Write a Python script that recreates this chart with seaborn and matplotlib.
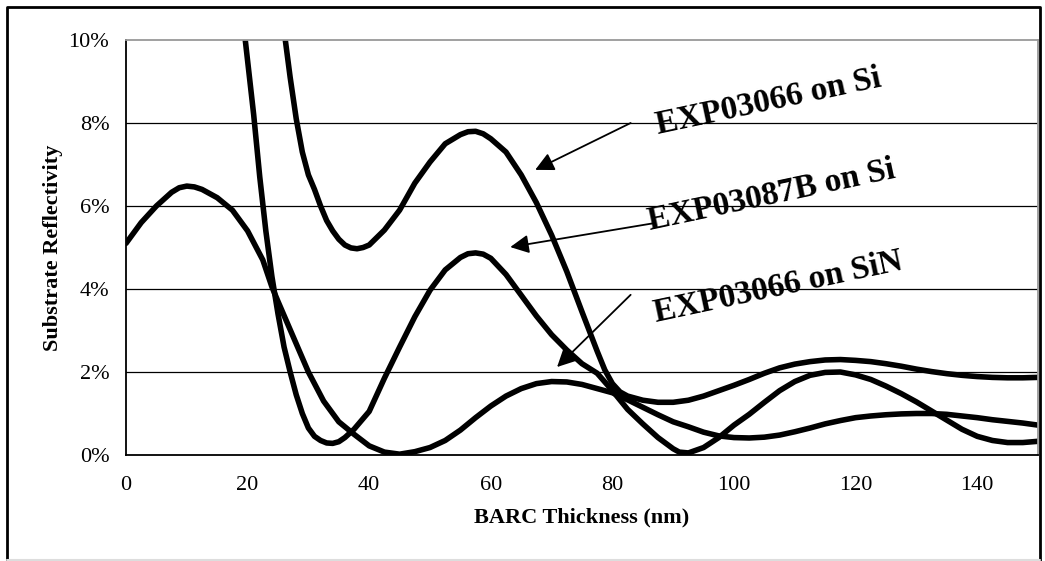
import pandas as pd
import matplotlib
matplotlib.use('Agg')
import matplotlib.pyplot as plt
import seaborn as sns
from matplotlib.ticker import PercentFormatter
from matplotlib.lines import Line2D

# reflectivity (%) vs BARC thickness (nm)
x_sin = [0, 2.5, 5, 7.5, 8.75, 10, 11.25, 12.5, 15, 17.5, 20, 22.5, 24, 25, 27.5, 30, 32.5, 35, 37.5,
         40, 42.5, 45, 47.5, 50, 52.5, 55, 57.5, 60, 62.5, 65, 67.5, 70, 72.5, 75, 77.5,
         80, 82.5, 85, 87.5, 90, 92.5, 95, 97.5, 100, 102.5, 105, 107.5, 110, 112.5, 115,
         117.5, 120, 122.5, 125, 127.5, 130, 132.5, 135, 137.5, 140, 142.5, 145, 147.5, 150]
y_sin = [5.1, 5.6, 6.0, 6.33, 6.44, 6.48, 6.46, 6.4, 6.2, 5.9, 5.4, 4.7, 4.05, 3.7, 2.85, 2.0, 1.3, 0.8, 0.5,
         0.22, 0.07, 0.02, 0.08, 0.18, 0.35, 0.6, 0.9, 1.18, 1.42, 1.6, 1.72, 1.77, 1.76, 1.7, 1.6,
         1.5, 1.33, 1.15, 0.97, 0.8, 0.68, 0.55, 0.46, 0.42, 0.41, 0.43, 0.48, 0.56, 0.65, 0.75,
         0.83, 0.9, 0.94, 0.97, 0.99, 1.0, 1.0, 0.98, 0.94, 0.9, 0.85, 0.81, 0.77, 0.72]

x_87b = [15, 17.5, 19, 20, 21, 22, 23, 24, 25, 26, 27, 28, 29, 30, 31, 32, 33, 34, 35, 36,
         37.5, 40, 42.5, 45, 47.5, 50, 52.5, 55, 56.25, 57.5, 58.75, 60, 62.5, 65, 67.5, 70, 72.5, 75, 77.5,
         80, 82.5, 85, 87.5, 90, 91, 92.5, 95, 97.5, 100, 102.5, 105, 107.5, 110, 112.5, 115, 117.5,
         120, 122.5, 125, 127.5, 130, 132.5, 135, 137.5, 140, 142.5, 145, 147.5, 150]
y_87b = [17, 13.6, 10.8, 9.5, 8.2, 6.7, 5.4, 4.3, 3.4, 2.6, 2.0, 1.45, 1.0, 0.65, 0.45, 0.35, 0.29, 0.28, 0.32, 0.42,
         0.62, 1.05, 1.85, 2.6, 3.33, 3.97, 4.46, 4.76, 4.85, 4.87, 4.84, 4.74, 4.35, 3.85, 3.35, 2.9, 2.53, 2.2, 1.97,
         1.55, 1.1, 0.75, 0.42, 0.15, 0.07, 0.05, 0.18, 0.42, 0.72, 0.98, 1.27, 1.55, 1.77, 1.92, 1.99, 2.0,
         1.93, 1.82, 1.66, 1.48, 1.28, 1.06, 0.84, 0.62, 0.45, 0.35, 0.3, 0.3, 0.33]

x_si = [22.5, 25, 26.2, 27, 28, 29, 30, 31, 32, 33, 34, 35, 36, 37, 38, 39, 40, 42.5, 45, 47.5,
        50, 52.5, 55, 56.25, 57.5, 58.75, 60, 62.5, 65, 67.5, 70, 72.5, 75, 77.5, 78.75, 80, 81.25, 82.5,
        85, 87.5, 90, 92.5, 95, 97.5, 100, 102.5, 105, 107.5, 110, 112.5, 115, 117.5, 120, 122.5, 125,
        127.5, 130, 132.5, 135, 137.5, 140, 142.5, 145, 147.5, 150]
y_si = [16, 11.5, 10.0, 9.1, 8.1, 7.3, 6.75, 6.4, 6.0, 5.65, 5.4, 5.2, 5.06, 4.99, 4.97, 5.0, 5.06, 5.42, 5.9, 6.55,
        7.06, 7.5, 7.72, 7.79, 7.8, 7.74, 7.62, 7.3, 6.75, 6.08, 5.3, 4.42, 3.45, 2.5, 2.05, 1.72, 1.52, 1.42,
        1.32, 1.27, 1.27, 1.32, 1.42, 1.55, 1.68, 1.82, 1.97, 2.1, 2.19, 2.25, 2.29, 2.3, 2.28, 2.25, 2.2,
        2.14, 2.07, 2.01, 1.96, 1.92, 1.89, 1.87, 1.86, 1.86, 1.87]

names = ['EXP03066 on Si', 'EXP03087B on Si', 'EXP03066 on SiN']

df = pd.concat([
    pd.DataFrame({'thick': x_si, 'refl': y_si, 'film': names[0]}),
    pd.DataFrame({'thick': x_87b, 'refl': y_87b, 'film': names[1]}),
    pd.DataFrame({'thick': x_sin, 'refl': y_sin, 'film': names[2]}),
])

sns.set_style('white')
plt.rcParams['font.family'] = ['Liberation Serif', 'DejaVu Serif']
plt.rcParams['text.color'] = 'black'
plt.rcParams['axes.labelcolor'] = 'black'
plt.rcParams['xtick.color'] = 'black'
plt.rcParams['ytick.color'] = 'black'

fig = plt.figure(figsize=(10.45, 5.61), dpi=100)
ax = fig.add_axes([126 / 1045, 1 - 455 / 561, 912 / 1045, 415 / 561])

sns.lineplot(data=df, x='thick', y='refl', hue='film', units='film', estimator=None,
             sort=False, palette=['black'] * 3, lw=4, legend=False, ax=ax,
             solid_joinstyle='round', solid_capstyle='round')

ax.set_xlim(0, 150)
ax.set_ylim(0, 10)
ax.set_xticks(range(0, 151, 20))
ax.set_yticks(range(0, 11, 2))
ax.yaxis.set_major_formatter(PercentFormatter(decimals=0))
for v in [2, 4, 6, 8]:
    ax.axhline(v, color='black', lw=0.9, zorder=0)

for s in ['left', 'bottom']:
    ax.spines[s].set_color('black')
    ax.spines[s].set_linewidth(1.3)
for s in ['top', 'right']:
    ax.spines[s].set_color('#999999')
    ax.spines[s].set_linewidth(1.3)

ax.tick_params(axis='both', direction='out', length=6, width=1.1, color='black',
               labelcolor='black', labelsize=16)
ax.tick_params(axis='x', pad=9)
ax.tick_params(axis='y', pad=6)

ax.set_xlabel('BARC Thickness (nm)', fontsize=16, fontweight='bold', labelpad=9, color='black')
ax.set_ylabel('Substrate Reflectivity', fontsize=16, fontweight='bold', labelpad=4, color='black')

# callouts
label_pos = [(105.6, 8.5), (106.1, 6.25), (107.2, 4.05)]
arrow_tail = [(83.0, 8.0), (87.0, 5.59), (83.0, 3.86)]
arrow_tip = [(67.3, 6.87), (63.2, 5.01), (70.9, 2.12)]
for name, pos, tail, tip in zip(names, label_pos, arrow_tail, arrow_tip):
    ax.text(pos[0], pos[1], name, rotation=12, rotation_mode='anchor', ha='center', va='center',
            fontsize=24, fontweight='bold', color='black',
            family=['Liberation Serif', 'DejaVu Serif'])
    ax.annotate('', xy=tip, xytext=tail,
                arrowprops=dict(arrowstyle='-|>', color='black', lw=1.3,
                                mutation_scale=28, shrinkA=0, shrinkB=0))

# outer frame: black left/top/right, faint bottom
W, H = 1045, 561
fig.lines.append(Line2D([7 / W, 7 / W, 1040 / W, 1040 / W], [0, 1 - 7 / H, 1 - 7 / H, 0],
                        transform=fig.transFigure, color='black', lw=2))
fig.lines.append(Line2D([7 / W, 1040 / W], [1.5 / H, 1.5 / H],
                        transform=fig.transFigure, color='#dddddd', lw=1.5))

fig.savefig('out.png', dpi=100)
